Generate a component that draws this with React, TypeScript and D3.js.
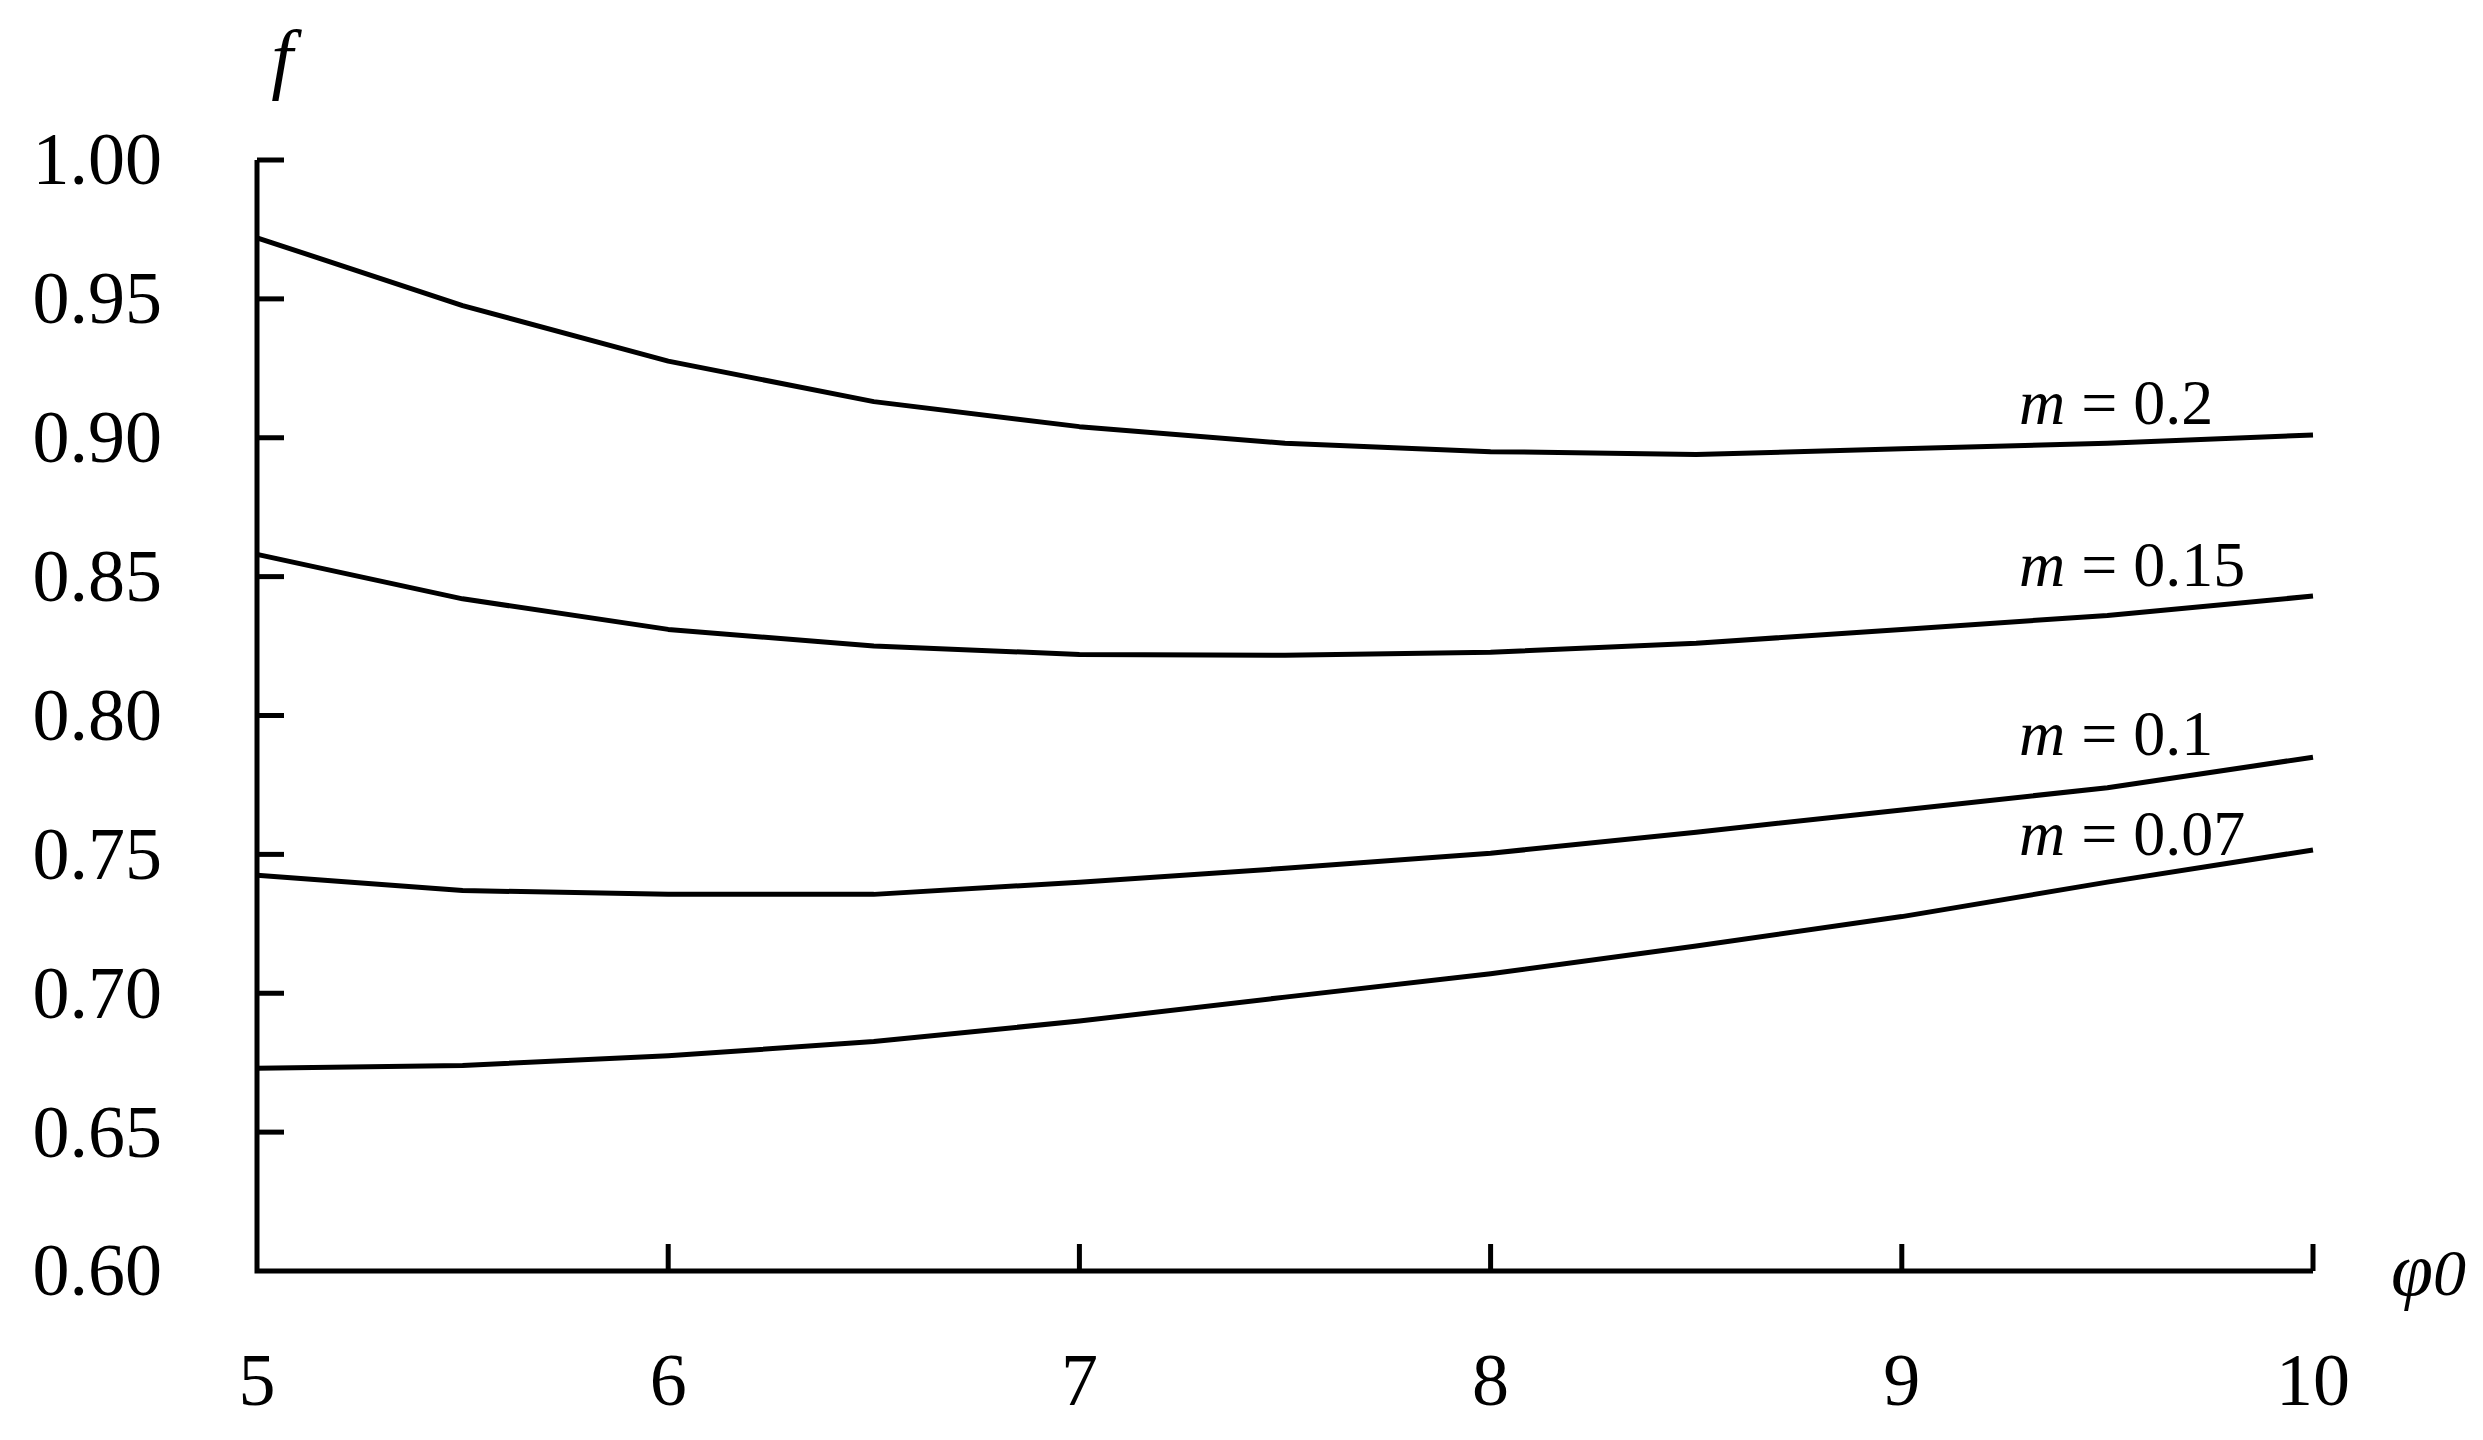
import React, { useRef, useEffect } from 'react';
import * as d3 from 'd3';

// phi_0 values (x axis)
const phi0 = [5, 5.5, 6, 6.5, 7, 7.5, 8, 8.5, 9, 9.5, 10];

// f values for each m
const fM020 = [0.972, 0.9476, 0.9276, 0.913, 0.904, 0.898, 0.895, 0.894, 0.896, 0.898, 0.901];
const fM015 = [0.858, 0.842, 0.831, 0.825, 0.822, 0.8217, 0.8228, 0.826, 0.831, 0.836, 0.843];
const fM010 = [0.7425, 0.737, 0.7356, 0.7356, 0.74, 0.745, 0.7504, 0.758, 0.766, 0.774, 0.785];
const fM007 = [0.673, 0.674, 0.6775, 0.6826, 0.69, 0.6986, 0.707, 0.717, 0.7276, 0.74, 0.7516];

const seriesLabels = ['0.2', '0.15', '0.1', '0.07'];
const xTicks = [5, 6, 7, 8, 9, 10];
const yTicks = [0.6, 0.65, 0.7, 0.75, 0.8, 0.85, 0.9, 0.95, 1.0];

const W = 2483;
const H = 1440;
const FONT = '"Liberation Serif", "Times New Roman", serif';

const App = () => {
  const svgRef = useRef<SVGSVGElement | null>(null);

  useEffect(() => {
    const svg = d3.select(svgRef.current);
    svg.selectAll('*').remove();

    const x = d3.scaleLinear().domain([5, 10]).range([257, 2313]);
    const y = d3.scaleLinear().domain([0.6, 1.0]).range([1271, 160]);

    const g = svg.append('g');

    // axes lines
    g.append('path')
      .attr('d', `M${x(5)},${y(1.0)} V${y(0.6)} H${x(10)}`)
      .attr('fill', 'none')
      .attr('stroke', '#000')
      .attr('stroke-width', 5)
      .attr('stroke-linejoin', 'miter');

    // y ticks (inward)
    yTicks.forEach(t => {
      if (t > 0.6) {
        g.append('line')
          .attr('x1', x(5)).attr('x2', x(5) + 27)
          .attr('y1', y(t)).attr('y2', y(t))
          .attr('stroke', '#000').attr('stroke-width', 5);
      }
      g.append('text')
        .attr('x', 162)
        .attr('y', y(t))
        .attr('dy', '0.33em')
        .attr('text-anchor', 'end')
        .attr('font-family', FONT)
        .attr('font-size', 74)
        .text(t.toFixed(2));
    });

    // x ticks (inward)
    xTicks.forEach(t => {
      if (t > 5) {
        g.append('line')
          .attr('x1', x(t)).attr('x2', x(t))
          .attr('y1', y(0.6)).attr('y2', y(0.6) - 27)
          .attr('stroke', '#000').attr('stroke-width', 5);
      }
      g.append('text')
        .attr('x', x(t))
        .attr('y', 1405)
        .attr('text-anchor', 'middle')
        .attr('font-family', FONT)
        .attr('font-size', 74)
        .text(t);
    });

    // curves (piecewise linear through the computed points)
    const line = d3.line<number>()
      .x((_, i) => x(phi0[i]))
      .y(d => y(d))
      .curve(d3.curveLinear);

    const all = [fM020, fM015, fM010, fM007];
    all.forEach(vals => {
      g.append('path')
        .attr('d', line(vals))
        .attr('fill', 'none')
        .attr('stroke', '#000')
        .attr('stroke-width', 5)
        .attr('stroke-linejoin', 'round');
    });

    // curve labels
    const labelY = [424, 586, 755, 855];
    seriesLabels.forEach((lab, i) => {
      const t = g.append('text')
        .attr('x', 2019)
        .attr('y', labelY[i])
        .attr('font-family', FONT)
        .attr('font-size', 64);
      t.append('tspan').attr('font-style', 'italic').text('m');
      t.append('tspan').text(` = ${lab}`);
    });

    // axis titles
    g.append('text')
      .attr('x', 282)
      .attr('y', 84)
      .attr('text-anchor', 'middle')
      .attr('font-family', FONT)
      .attr('font-style', 'italic')
      .attr('font-size', 78)
      .text('f');

    const phi = g.append('text')
      .attr('x', 2391)
      .attr('y', 1295)
      .attr('font-family', FONT)
      .attr('font-style', 'italic')
      .attr('font-size', 76);
    phi.append('tspan').text('φ');
    phi.append('tspan').attr('font-size', 66).text('0');
  }, []);

  return (
    <div style={{ position: 'absolute', left: 0, top: 0, background: '#fff' }}>
      <svg ref={svgRef} width={W} height={H} viewBox={`0 0 ${W} ${H}`} />
    </div>
  );
};

export default App;
